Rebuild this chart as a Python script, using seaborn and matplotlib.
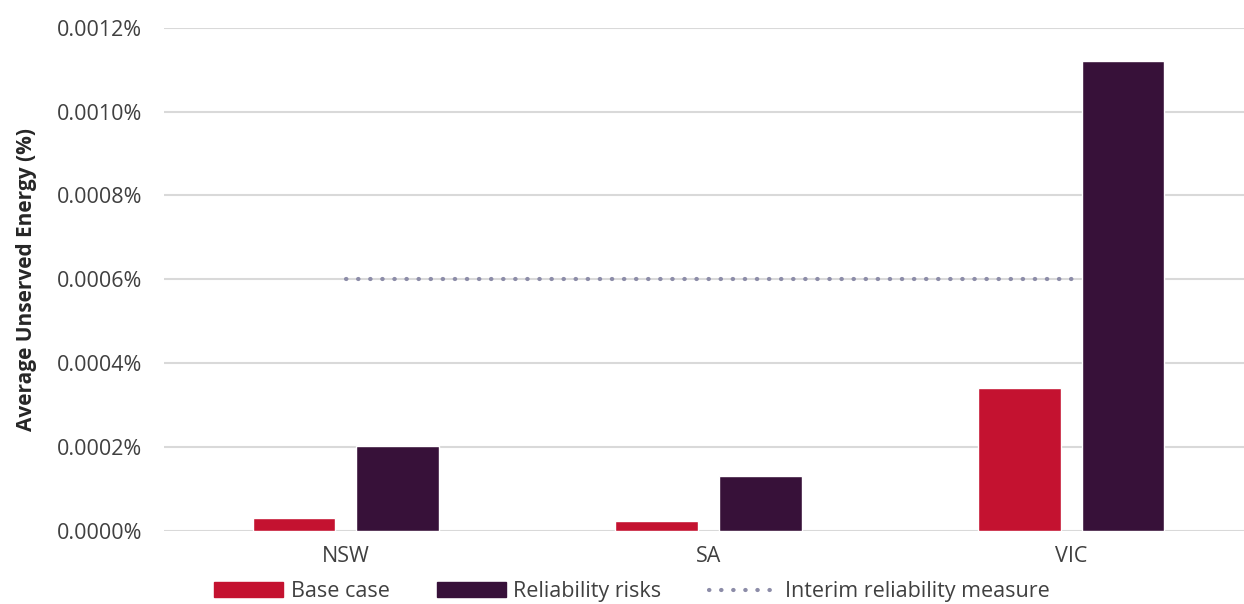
import pandas as pd
import seaborn as sns
import matplotlib.pyplot as plt
from matplotlib.patches import Patch
from matplotlib.lines import Line2D
from matplotlib.ticker import FuncFormatter

regions = ["NSW", "SA", "VIC"]
scenarios = ["Base case", "Reliability risks"]
base_case = [0.000031, 0.000024, 0.000342]
reliability_risks = [0.000203, 0.000132, 0.001121]
interim_measure = 0.0006
colors = ["#C41230", "#371139"]
line_color = "#8C8CA8"

df = pd.DataFrame({
    "region": regions * 2,
    "scenario": [scenarios[0]] * 3 + [scenarios[1]] * 3,
    "value": base_case + reliability_risks,
})

sns.set_style("white")
plt.rcParams["font.family"] = ["Open Sans", "DejaVu Sans"]

fig = plt.figure(figsize=(12.44, 6.04), dpi=100)
ax = fig.add_axes([0.132, 0.121, 0.868, 0.833])

sns.barplot(data=df, x="region", y="value", hue="scenario", order=regions,
            hue_order=scenarios, palette=colors, width=0.57, gap=0.2,
            saturation=1, ax=ax, legend=False, zorder=3)

# interim reliability measure, from first to last region
dots = (0, (0.1, 2.8))
ax.plot([0, 2.01], [interim_measure, interim_measure], color=line_color,
        linestyle=dots, dash_capstyle="round", linewidth=3, zorder=4)

ax.set_ylim(0, 0.0012)
ax.set_xlim(-0.5, 2.476)
ax.set_yticks([i * 0.0002 for i in range(7)])
ax.yaxis.set_major_formatter(FuncFormatter(lambda v, p: f"{v:.4f}%"))
ax.grid(axis="y", color="#D9D9D9", linewidth=1.5, zorder=0)
ax.set_axisbelow(True)
for s in ax.spines.values():
    s.set_visible(False)
ax.tick_params(axis="both", length=0, labelsize=15.5, colors="#404040")
ax.tick_params(axis="y", pad=16)
ax.tick_params(axis="x", pad=11)
ax.set_xlabel("")
ax.set_ylabel("Average Unserved Energy (%)", fontsize=15, fontweight="bold",
              color="#262626", labelpad=14)

handles = [Patch(color=colors[0]), Patch(color=colors[1]),
           Line2D([], [], color=line_color, linestyle=dots,
                  dash_capstyle="round", linewidth=3)]
labels = scenarios + ["Interim reliability measure"]
fig.legend(handles, labels, loc="center", bbox_to_anchor=(0.508, 0.02),
           ncol=3, frameon=False, fontsize=15.5, handlelength=3.2,
           handletextpad=0.35, columnspacing=2.2, labelcolor="#404040")

plt.savefig("out.png", dpi=100)
